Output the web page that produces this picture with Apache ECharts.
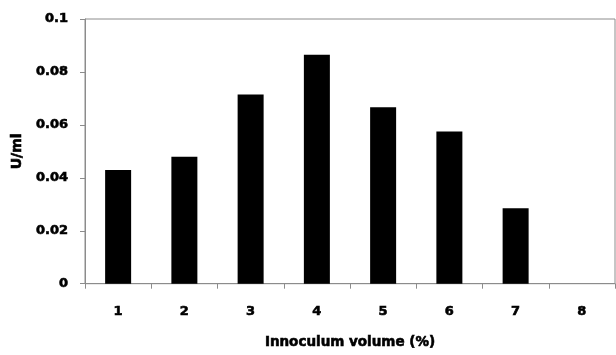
<!DOCTYPE html>
<html>
<head>
<meta charset="utf-8">
<script src="https://cdn.jsdelivr.net/npm/echarts@6/dist/echarts.min.js"></script>
<style>
  html, body { margin: 0; padding: 0; background: #fff; }
  #chart { width: 616px; height: 355px; }
</style>
</head>
<body>
<div id="chart"></div>
<script>
// Enzyme activity against inoculum volume
const categories = ['1', '2', '3', '4', '5', '6', '7', '8'];
const activity = [0.043, 0.048, 0.0715, 0.0865, 0.0667, 0.0575, 0.0285, 0];
const yTicks = [0, 0.02, 0.04, 0.06, 0.08, 0.1];

const font = '"DejaVu Sans", Verdana, sans-serif';
const axisGrey = '#8c8c8c';
// heavy bold text style shared by all labels
const heavy = { fontFamily: font, fontWeight: 'bold', color: '#000', textBorderColor: '#000', textBorderWidth: 0.6 };

const chart = echarts.init(document.getElementById('chart'), null, { renderer: 'canvas' });
chart.setOption({
  animation: false,
  backgroundColor: '#ffffff',
  grid: {
    left: 85, right: 1, top: 19, bottom: 66,
    show: true, borderColor: axisGrey, borderWidth: 1, backgroundColor: 'transparent'
  },
  xAxis: {
    type: 'category',
    data: categories,
    name: 'Innoculum volume (%)',
    nameLocation: 'middle',
    nameGap: 52,
    nameTextStyle: Object.assign({ fontSize: 13.5 }, heavy),
    axisLine: { show: true, lineStyle: { color: axisGrey, width: 1 } },
    axisTick: { show: true, alignWithLabel: false, length: 5, lineStyle: { color: axisGrey } },
    axisLabel: Object.assign({ margin: 21, fontSize: 13 }, heavy),
    splitLine: { show: false }
  },
  yAxis: {
    type: 'value',
    min: yTicks[0],
    max: yTicks[yTicks.length - 1],
    interval: 0.02,
    name: 'U/ml',
    nameLocation: 'middle',
    nameGap: 53,
    nameRotate: 90,
    nameTextStyle: Object.assign({ fontSize: 14 }, heavy),
    axisLine: { show: true, lineStyle: { color: axisGrey, width: 1 } },
    axisTick: { show: true, inside: false, length: 5, lineStyle: { color: axisGrey } },
    axisLabel: Object.assign({
      margin: 17, fontSize: 13,
      formatter: v => String(Math.round(v * 100) / 100)
    }, heavy),
    splitLine: { show: false }
  },
  series: [{
    type: 'bar',
    data: activity,
    barWidth: 26,
    itemStyle: { color: '#000' }
  }]
});
</script>
</body>
</html>
